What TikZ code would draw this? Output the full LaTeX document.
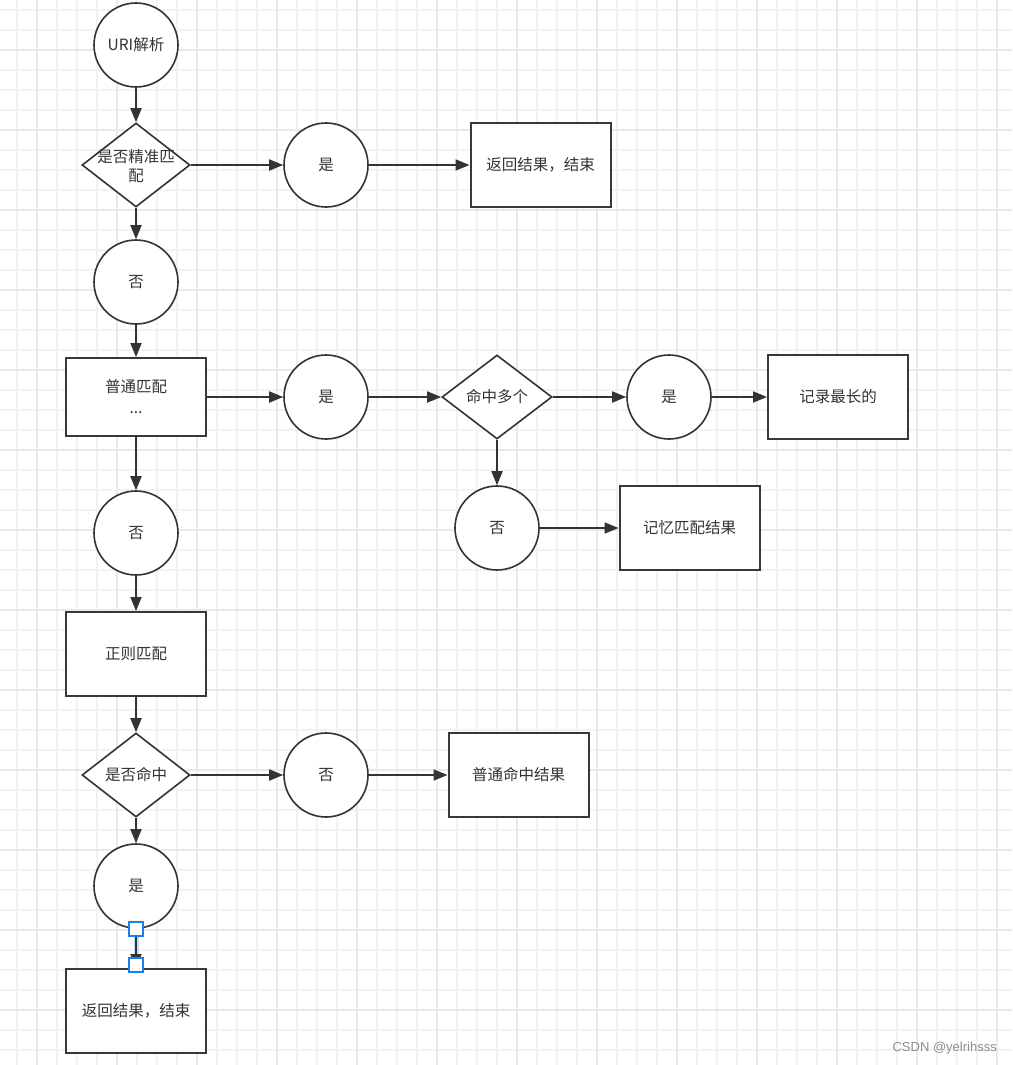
\documentclass[tikz,border=0pt]{standalone}
\usepackage{fontspec}
\newfontfamily\cjk{Noto Sans CJK SC}
\newfontfamily\wm{Liberation Sans}
\usetikzlibrary{shapes.geometric,arrows.meta}
\definecolor{ln}{HTML}{333333}
\definecolor{bd}{HTML}{323941}
\definecolor{gminor}{HTML}{F2F2F2}
\definecolor{gmajor}{HTML}{E9E9E9}
\definecolor{sel}{HTML}{1A7FE6}
\begin{document}
\begin{tikzpicture}[x=1pt,y=-1pt,
  txt/.style={font=\cjk\fontsize{15.5}{19}\selectfont, text=ln},
  circ/.style={circle, draw=ln, line width=1.6pt, fill=white, minimum size=84pt, inner sep=0pt, txt},
  boxn/.style={rectangle, draw=bd, line width=2pt, fill=white, minimum width=140pt, minimum height=84pt, inner sep=0pt, align=center, txt},
  dia/.style={diamond, draw=ln, line width=1.6pt, fill=white, minimum width=108pt, minimum height=84pt, inner sep=0pt},
  lbl/.style={txt, align=center, inner sep=0pt},
  conn/.style={draw=ln, line width=1.8pt, -{Triangle[length=14pt,width=11pt]}},
  handle/.style={rectangle, draw=sel, line width=1.8pt, fill=white, minimum size=14pt, inner sep=0pt}
]
\useasboundingbox (0,0) rectangle (1012,1065);
\fill[white] (0,0) rectangle (1012,1065);
% grid
\foreach \x in {-3,17,...,1012} \draw[gminor, line width=1.2pt] (\x,0) -- (\x,1065);
\foreach \y in {10,30,...,1065} \draw[gminor, line width=1.2pt] (0,\y) -- (1012,\y);
\foreach \x in {37,117,...,1012} \draw[gmajor, line width=1.5pt] (\x,0) -- (\x,1065);
\foreach \y in {50,130,...,1065} \draw[gmajor, line width=1.5pt] (0,\y) -- (1012,\y);

% nodes
\node[circ] (uri) at (136,45) {URI解析};
\node[dia] (d1) at (136,165) {};
\node[lbl] (t1) at (136,166) {是否精准匹\\配};
\node[circ] (y1) at (326,165) {是};
\node[boxn] (r1) at (540.5,165) {返回结果，结束};
\node[circ] (n1) at (136,282) {否};
\node[boxn, minimum height=78pt] (r2) at (136,397) {普通匹配\\[2pt]...};
\node[circ] (y2) at (326,397) {是};
\node[dia, minimum width=110pt] (d2) at (497,397) {};
\node[lbl] (t2) at (497,397) {命中多个};
\node[circ] (y3) at (669,397) {是};
\node[boxn] (r3) at (838,397) {记录最长的};
\node[circ] (n2) at (497,528) {否};
\node[boxn] (r4) at (689.5,528) {记忆匹配结果};
\node[circ] (n3) at (136,533) {否};
\node[boxn] (r5) at (136,654) {正则匹配};
\node[dia] (d3) at (136,775) {};
\node[lbl] (t3) at (136,775) {是否命中};
\node[circ] (n4) at (326,775) {否};
\node[boxn] (r6) at (518.5,775) {普通命中结果};
\node[circ] (y4) at (136,886) {是};
\node[boxn] (r7) at (136,1011) {返回结果，结束};

% connectors
\draw[conn] (uri) -- (d1);
\draw[conn] (d1) -- (y1);
\draw[conn] (y1) -- (r1);
\draw[conn] (d1) -- (n1);
\draw[conn] (n1) -- (r2);
\draw[conn] (r2) -- (y2);
\draw[conn] (y2) -- (d2);
\draw[conn] (d2) -- (y3);
\draw[conn] (y3) -- (r3);
\draw[conn] (d2) -- (n2);
\draw[conn] (n2) -- (r4);
\draw[conn] (r2) -- (n3);
\draw[conn] (n3) -- (r5);
\draw[conn] (r5) -- (d3);
\draw[conn] (d3) -- (n4);
\draw[conn] (n4) -- (r6);
\draw[conn] (d3) -- (y4);
\draw[sel!25, line width=5pt] (y4.south) -- (r7.north);
\draw[conn] (y4) -- (r7);
\node[handle] (h1) at (136,929) {};
\node[handle] (h2) at (136,965) {};

% watermark
\node[anchor=east, inner sep=0pt, font=\wm\fontsize{13}{15}\selectfont, text=black!45] (wm) at (997,1048) {CSDN @yelrihsss};
\end{tikzpicture}
\end{document}
